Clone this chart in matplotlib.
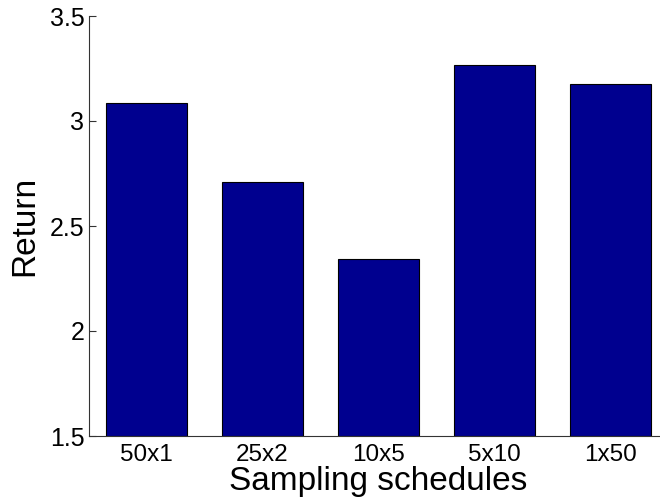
import matplotlib
matplotlib.use("Agg")
import matplotlib.pyplot as plt

categories = ["50x1", "25x2", "10x5", "5x10", "1x50"]
returns = [3.085, 2.71, 2.341, 3.268, 3.177]
yticks = [1.5, 2, 2.5, 3, 3.5]

plt.rcParams['font.family'] = ['Liberation Sans', 'DejaVu Sans']

fig = plt.figure(figsize=(6.6, 4.99), dpi=100)
W, H = 660, 499
ax = fig.add_axes([88.5 / W, (H - 436) / H, (668.7 - 88.5) / W, 420 / H])

x = list(range(1, len(categories) + 1))
ax.bar(x, [r - 1.5 for r in returns], bottom=1.5, width=0.7,
       color="#00008F", edgecolor="black", linewidth=0.8, zorder=1)

ax.set_xlim(0.5, 5.5)
ax.set_ylim(1.5, 3.5)
ax.set_yticks(yticks)
ax.set_yticklabels(["1.5", "2", "2.5", "3", "3.5"])
ax.set_xticks(x)
ax.set_xticklabels(categories)

for s in ["top", "right"]:
    ax.spines[s].set_visible(False)
for s in ["left", "bottom"]:
    ax.spines[s].set_color("#333333")
    ax.spines[s].set_linewidth(0.8)
    ax.spines[s].set_zorder(3)

ax.tick_params(axis="y", direction="in", length=5, width=0.8, color="#333333",
               labelsize=18, pad=3)
ax.tick_params(axis="x", direction="in", length=0, labelsize=17.5, pad=6)

ax.set_xlabel("Sampling schedules", fontsize=24, labelpad=0)
ax.set_ylabel("Return", fontsize=24, labelpad=6.5)

fig.savefig("out.png", dpi=100)
